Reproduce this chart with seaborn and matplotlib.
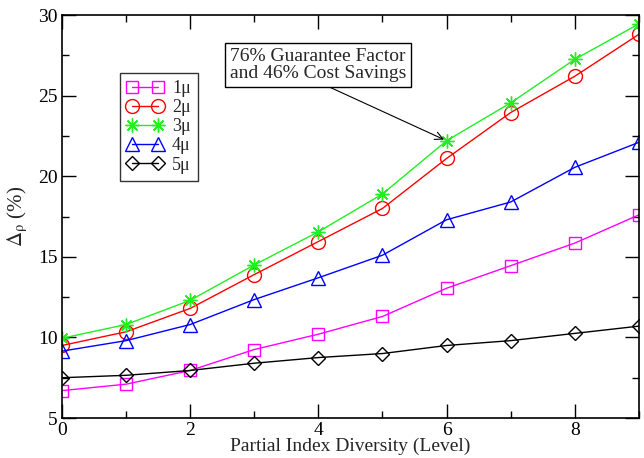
import pandas as pd
import matplotlib
matplotlib.use('Agg')
import matplotlib.pyplot as plt
import seaborn as sns
from matplotlib.ticker import MultipleLocator

# Podaci procitani sa grafika
levels = [0, 1, 2, 3, 4, 5, 6, 7, 8, 9]
s1 = [6.7, 7.1, 7.95, 9.25, 10.2, 11.3, 13.05, 14.45, 15.85, 17.6]
s2 = [9.5, 10.35, 11.8, 13.9, 15.95, 18.0, 21.1, 23.95, 26.2, 28.8]
s3 = [9.95, 10.8, 12.3, 14.5, 16.55, 18.9, 22.2, 24.55, 27.25, 29.45]
s4 = [9.15, 9.8, 10.8, 12.35, 13.7, 15.1, 17.3, 18.4, 20.55, 22.1]
s5 = [7.5, 7.65, 7.95, 8.4, 8.75, 9.0, 9.5, 9.8, 10.25, 10.7]
labels = ['1μ', '2μ', '3μ', '4μ', '5μ']

series = [s1, s2, s3, s4, s5]
colors = ['#ff00ff', '#ff0000', '#22ee22', '#0000ff', '#000000']
markers = ['s', 'o', (8, 2, 0), '^', 'D']
msizes = [8, 10, 10, 10, 7]

sns.set_style('ticks')
plt.rcParams['font.family'] = ['Liberation Serif', 'DejaVu Serif']
plt.rcParams['mathtext.fontset'] = 'stix'

fig = plt.figure(figsize=(6.44, 4.58), dpi=100)
ax = fig.add_axes([0.0963, 0.0873, 0.8957, 0.8799])

for vals, lab, c, m, ms in zip(series, labels, colors, markers, msizes):
    df = pd.DataFrame({'level': levels, 'val': vals})
    sns.lineplot(data=df, x='level', y='val', ax=ax, color=c, marker=m,
                 markersize=ms, markerfacecolor='none', markeredgecolor=c,
                 markeredgewidth=1.0, linewidth=1.0, label=lab)

ax.set_xlim(0, 9)
ax.set_ylim(5, 30)
ax.xaxis.set_major_locator(MultipleLocator(2))
ax.xaxis.set_minor_locator(MultipleLocator(1))
ax.yaxis.set_major_locator(MultipleLocator(5))
ax.yaxis.set_minor_locator(MultipleLocator(2.5))
ax.tick_params(which='both', direction='in', top=True, right=True,
               labelsize=14, width=1.0, colors='black', pad=3)
ax.tick_params(which='major', length=10)
ax.tick_params(which='minor', length=5)
for sp in ax.spines.values():
    sp.set_linewidth(1.2)
    sp.set_color('black')

ax.set_xlabel('Partial Index Diversity (Level)', fontsize=14, labelpad=-1)
ax.set_ylabel(r'$\mathrm{\Delta}_{\mathrm{\rho}}$ (%)', fontsize=15, labelpad=6)

leg = ax.legend(loc='upper left', bbox_to_anchor=(0.1, 0.857), fontsize=13,
                frameon=True, fancybox=False, shadow=False, numpoints=2,
                handlelength=2.0, labelspacing=0.12, borderpad=0.4,
                handletextpad=0.5, borderaxespad=0)
leg.get_frame().set_edgecolor('black')
leg.get_frame().set_linewidth(1.0)

ax.annotate('76% Guarantee Factor\nand 46% Cost Savings', xy=(6, 22.2),
            xytext=(4.0, 26.9), textcoords='data', ha='center', va='center',
            multialignment='left', fontsize=14, linespacing=1.0,
            bbox=dict(boxstyle='square,pad=0.25', fc='white', ec='black', lw=1.0),
            arrowprops=dict(arrowstyle='->', color='black', lw=0.8,
                            relpos=(0.5, 0), shrinkA=0, shrinkB=2))

fig.savefig('out.png', dpi=100)
